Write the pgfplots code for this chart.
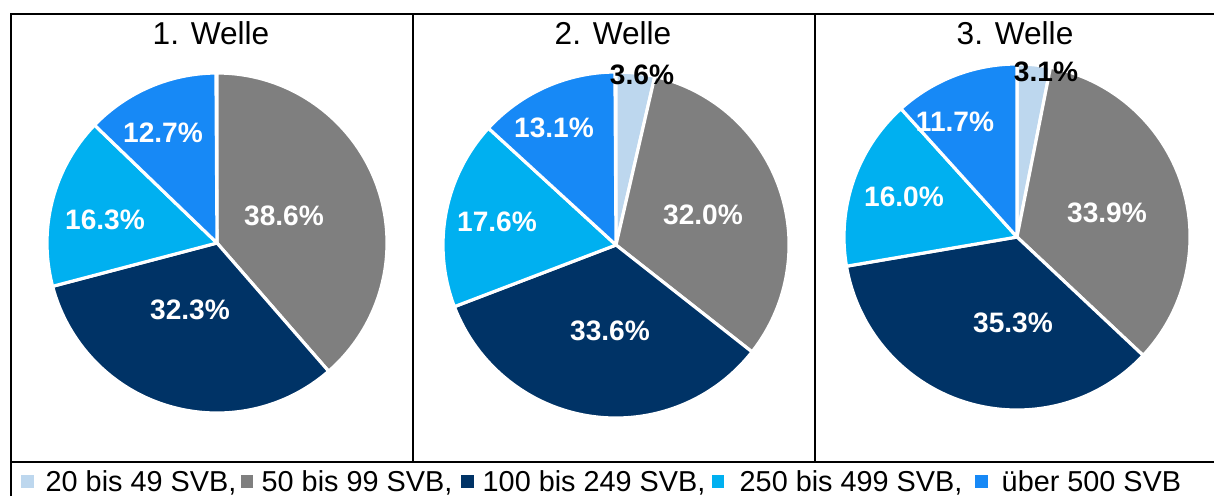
\documentclass[border=0pt]{standalone}
\usepackage{fontspec}
\setmainfont{Liberation Sans}
\usepackage{pgfplots}
\usepackage{pgfplotstable}
\pgfplotsset{compat=1.18}

\definecolor{c20}{HTML}{BDD7EE}
\definecolor{c50}{HTML}{7F7F7F}
\definecolor{c100}{HTML}{003366}
\definecolor{c250}{HTML}{00B0F0}
\definecolor{c500}{HTML}{1789F6}

\tikzset{legtext/.style={anchor=base west,inner sep=0pt,font=\fontsize{8.2}{10}\selectfont}}

% share in %, slice colour, label centre (px), dark label flag
\pgfplotstableread{
val  col  lx  ly  dark
38.6 c50  284 216 0
32.3 c100 190 310 0
16.3 c250 105 220 0
12.7 c500 163 133 0
}\welleA
\pgfplotstableread{
val  col  lx  ly  dark
3.6  c20  642 75  1
32.0 c50  703 215 0
33.6 c100 610 331 0
17.6 c250 497 222 0
13.1 c500 554 128 0
}\welleB
\pgfplotstableread{
val  col  lx   ly  dark
3.1  c20  1046 72  1
33.9 c50  1107 213 0
35.3 c100 1013 323 0
16.0 c250 904  197 0
11.7 c500 955  122 0
}\welleC

\newcommand\lblfont{\fontsize{8}{10}\selectfont\bfseries}

% #1 table, #2 #3 centre (px), #4 radius (cm)
\newcommand\drawpie[4]{%
  \pgfplotstablegetrowsof{#1}\let\nrows\pgfplotsretval
  \def\cum{0}%
  \pgfplotsforeachungrouped \ii in {1,...,\nrows} {%
    \pgfmathtruncatemacro\row{\ii-1}%
    \pgfplotstablegetelem{\row}{val}\of{#1}\let\sval\pgfplotsretval
    \pgfplotstablegetelem{\row}{col}\of{#1}\let\scol\pgfplotsretval
    \pgfmathsetmacro\sa{90-3.6*\cum}%
    \pgfmathsetmacro\ea{90-3.6*(\cum+\sval)}%
    \edef\temp{\noexpand\fill[fill=\scol,draw=white,line width=0.9pt,line join=round]
      (axis cs:#2,#3) -- ++(\sa:#4cm) arc[start angle=\sa,end angle=\ea,radius=#4cm] -- cycle;}%
    \temp
    \pgfmathsetmacro\cum{\cum+\sval}%
  }%
  \pgfplotsforeachungrouped \ii in {1,...,\nrows} {%
    \pgfmathtruncatemacro\row{\ii-1}%
    \pgfplotstablegetelem{\row}{val}\of{#1}\let\sval\pgfplotsretval
    \pgfplotstablegetelem{\row}{lx}\of{#1}\let\slx\pgfplotsretval
    \pgfplotstablegetelem{\row}{ly}\of{#1}\let\sly\pgfplotsretval
    \pgfplotstablegetelem{\row}{dark}\of{#1}\let\sdark\pgfplotsretval
    \edef\temp{\noexpand\node[inner sep=0pt,text=\ifnum\sdark=1 black\else white\fi]
      at (axis cs:\slx,\sly) {\noexpand\lblfont \sval\noexpand\%};}%
    \temp
  }%
}

\begin{document}
\begin{tikzpicture}
\begin{axis}[
  scale only axis, width=12.14cm, height=4.96cm,
  xmin=0, xmax=1214, ymin=0, ymax=496, y dir=reverse,
  axis lines=none, clip=false,
]
  % frame
  \draw[line width=0.6pt] (axis cs:11,496) -- (axis cs:11,14) -- (axis cs:1214,14);
  \draw[line width=0.6pt] (axis cs:11,462) -- (axis cs:1214,462);
  \draw[line width=0.6pt] (axis cs:413,14) -- (axis cs:413,462);
  \draw[line width=0.6pt] (axis cs:815,14) -- (axis cs:815,462);

  % titles
  \node[anchor=base,inner sep=0pt,font=\fontsize{9}{11}\selectfont] at (axis cs:211,44) {1. Welle};
  \node[anchor=base,inner sep=0pt,font=\fontsize{9}{11}\selectfont] at (axis cs:613,44) {2. Welle};
  \node[anchor=base,inner sep=0pt,font=\fontsize{9}{11}\selectfont] at (axis cs:1015,44) {3. Welle};

  \drawpie{\welleA}{217}{243}{1.70}
  \drawpie{\welleB}{616}{245}{1.73}
  \drawpie{\welleC}{1017}{237}{1.73}

  % legend
  \fill[c20]  (axis cs:21,475)  rectangle (axis cs:34,488);
  \node[legtext] at (axis cs:45,491) {20 bis 49 SVB,};
  \fill[c50]  (axis cs:241,475) rectangle (axis cs:253,488);
  \node[legtext] at (axis cs:261,491) {50 bis 99 SVB,};
  \fill[c100] (axis cs:461,475) rectangle (axis cs:474,488);
  \node[legtext] at (axis cs:482,491) {100 bis 249 SVB,};
  \fill[c250] (axis cs:712,475) rectangle (axis cs:724,488);
  \node[legtext] at (axis cs:739,491) {250 bis 499 SVB,};
  \fill[c500] (axis cs:975,475) rectangle (axis cs:988,488);
  \node[legtext] at (axis cs:1001,491) {über 500 SVB};
\end{axis}
\pgfresetboundingbox
\path (current axis.south west) rectangle (current axis.north east);
\end{tikzpicture}
\end{document}
